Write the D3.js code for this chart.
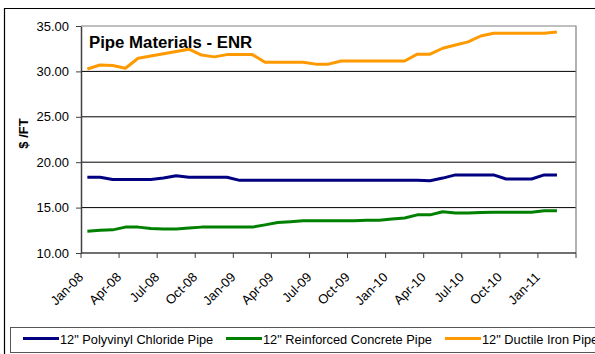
<!DOCTYPE html>
<html>
<head>
<meta charset="utf-8">
<script src="https://cdn.jsdelivr.net/npm/d3@7"></script>
<style>
  html, body { margin: 0; padding: 0; background: #fff; }
  svg { display: block; font-family: "Liberation Sans", Arial, sans-serif; }
</style>
</head>
<body>
<div id="chart"></div>
<script>
// Monthly categories (last one has no data, Excel leaves it empty)
const months = [
  'Jan-08','Feb-08','Mar-08','Apr-08','May-08','Jun-08','Jul-08','Aug-08','Sep-08','Oct-08','Nov-08','Dec-08',
  'Jan-09','Feb-09','Mar-09','Apr-09','May-09','Jun-09','Jul-09','Aug-09','Sep-09','Oct-09','Nov-09','Dec-09',
  'Jan-10','Feb-10','Mar-10','Apr-10','May-10','Jun-10','Jul-10','Aug-10','Sep-10','Oct-10','Nov-10','Dec-10',
  'Jan-11','Feb-11','Mar-11'
];

const pvcPipe = [
  18.35, 18.35, 18.1, 18.1, 18.1, 18.1, 18.25, 18.5, 18.35, 18.35, 18.35, 18.35,
  18.0, 18.0, 18.0, 18.0, 18.0, 18.0, 18.0, 18.0, 18.0, 18.0, 18.0, 18.0,
  18.0, 18.0, 18.0, 17.95, 18.25, 18.6, 18.6, 18.6, 18.6, 18.15, 18.15, 18.15,
  18.6, 18.6
];

const concretePipe = [
  12.4, 12.5, 12.55, 12.85, 12.85, 12.7, 12.65, 12.65, 12.75, 12.85, 12.85, 12.85,
  12.85, 12.85, 13.1, 13.35, 13.45, 13.55, 13.55, 13.55, 13.55, 13.55, 13.6, 13.6,
  13.75, 13.85, 14.2, 14.2, 14.55, 14.4, 14.4, 14.45, 14.5, 14.5, 14.5, 14.5,
  14.65, 14.65
];

const ductilePipe = [
  30.26, 30.7, 30.65, 30.35, 31.45, 31.7, 31.95, 32.2, 32.45, 31.8, 31.6, 31.85,
  31.85, 31.85, 31.0, 31.0, 31.0, 31.0, 30.8, 30.8, 31.15, 31.15, 31.15, 31.15,
  31.15, 31.15, 31.9, 31.9, 32.55, 32.9, 33.25, 33.9, 34.2, 34.2, 34.2, 34.2,
  34.2, 34.35
];

const yTicks = [10, 15, 20, 25, 30, 35];
const tickLabels = ['Jan-08','Apr-08','Jul-08','Oct-08','Jan-09','Apr-09','Jul-09','Oct-09','Jan-10','Apr-10','Jul-10','Oct-10','Jan-11'];

const series = [
  { name: '12" Polyvinyl Chloride Pipe', values: pvcPipe, color: '#000080' },
  { name: '12" Reinforced Concrete Pipe', values: concretePipe, color: '#008000' },
  { name: '12" Ductile Iron Pipe', values: ductilePipe, color: '#FF9900' }
];

const width = 595, height = 354;
const plot = { left: 81, right: 576, top: 26, bottom: 253 };

const svg = d3.select('#chart').append('svg')
  .attr('width', width)
  .attr('height', height);

// Outer chart frame (cropped on the right / bottom)
svg.append('path')
  .attr('d', `M4.5,${height + 2} V8.5 H${width + 2}`)
  .attr('fill', 'none')
  .attr('stroke', '#000')
  .attr('stroke-width', 1.2);

const x = d3.scaleBand()
  .domain(months)
  .range([plot.left, plot.right])
  .paddingInner(0).paddingOuter(0);

const y = d3.scaleLinear()
  .domain([10, 35])
  .range([plot.bottom, plot.top]);

// Gridlines
svg.append('g')
  .selectAll('line')
  .data(yTicks.filter(v => v > 10 && v < 35))
  .join('line')
  .attr('x1', plot.left).attr('x2', plot.right)
  .attr('y1', d => y(d)).attr('y2', d => y(d))
  .attr('stroke', '#000')
  .attr('stroke-width', 1);

// Plot area border (top + right)
svg.append('path')
  .attr('d', `M${plot.left},${plot.top} H${plot.right} V${plot.bottom}`)
  .attr('fill', 'none')
  .attr('stroke', '#808080')
  .attr('stroke-width', 1.2);

// Y axis
const yAxis = svg.append('g')
  .attr('transform', `translate(${plot.left},0)`)
  .call(d3.axisLeft(y).tickValues(yTicks).tickSize(5).tickSizeOuter(0).tickFormat(d3.format('.2f')));
yAxis.select('.domain').attr('stroke', '#404040').attr('stroke-width', 1.5);
yAxis.selectAll('.tick line').attr('stroke', '#404040');
yAxis.selectAll('.tick text')
  .attr('x', -12)
  .attr('font-size', 13)
  .attr('font-family', '"Liberation Sans", Arial, sans-serif')
  .attr('fill', '#000');

// X axis: tick every 3 months at category boundaries
const xTickPos = d3.range(0, months.length + 1, 3).map(i => i < months.length ? x(months[i]) : plot.right);
const xAxis = svg.append('g');
xAxis.append('line')
  .attr('x1', plot.left).attr('x2', plot.right)
  .attr('y1', plot.bottom).attr('y2', plot.bottom)
  .attr('stroke', '#404040').attr('stroke-width', 1.5);
xAxis.selectAll('line.tick')
  .data(xTickPos)
  .join('line')
  .attr('class', 'tick')
  .attr('x1', d => d).attr('x2', d => d)
  .attr('y1', plot.bottom).attr('y2', plot.bottom + 5)
  .attr('stroke', '#404040');
xAxis.selectAll('text')
  .data(tickLabels)
  .join('text')
  .attr('transform', (d, i) => `translate(${xTickPos[i] + 3},${plot.bottom + 25}) rotate(-45)`)
  .attr('text-anchor', 'end')
  .attr('font-size', 13)
  .attr('fill', '#000')
  .text(d => d);

// Y axis title
svg.append('text')
  .attr('transform', `translate(28,${(plot.top + plot.bottom) / 2 - 6}) rotate(-90)`)
  .attr('text-anchor', 'middle')
  .attr('font-size', 13)
  .attr('font-weight', 'bold')
  .text('$ /FT');

// Chart title inside the plot
svg.append('text')
  .attr('x', 89)
  .attr('y', 48)
  .attr('font-size', 16.8)
  .attr('font-weight', 'bold')
  .text('Pipe Materials - ENR');

// Lines
const line = d3.line()
  .x((d, i) => x(months[i]) + x.bandwidth() / 2)
  .y(d => y(d));

svg.append('g')
  .selectAll('path')
  .data(series)
  .join('path')
  .attr('d', d => line(d.values))
  .attr('fill', 'none')
  .attr('stroke', d => d.color)
  .attr('stroke-width', 3)
  .attr('stroke-linejoin', 'round');

// Legend (runs past the right edge, as in the original)
const legend = svg.append('g');
legend.append('rect')
  .attr('x', 10.5).attr('y', 327.5)
  .attr('width', 600).attr('height', 25)
  .attr('fill', '#fff')
  .attr('stroke', '#555')
  .attr('stroke-width', 1);

const legendX = [23, 226, 445];
legend.selectAll('g.item')
  .data(series)
  .join('g')
  .attr('class', 'item')
  .attr('transform', (d, i) => `translate(${legendX[i]},338.5)`)
  .each(function(d) {
    const g = d3.select(this);
    g.append('line')
      .attr('x1', 0).attr('x2', 36)
      .attr('stroke', d.color)
      .attr('stroke-width', 3);
    g.append('text')
      .attr('x', 37)
      .attr('y', 5)
      .attr('font-size', 12.8)
      .text(d.name);
  });
</script>
</body>
</html>
